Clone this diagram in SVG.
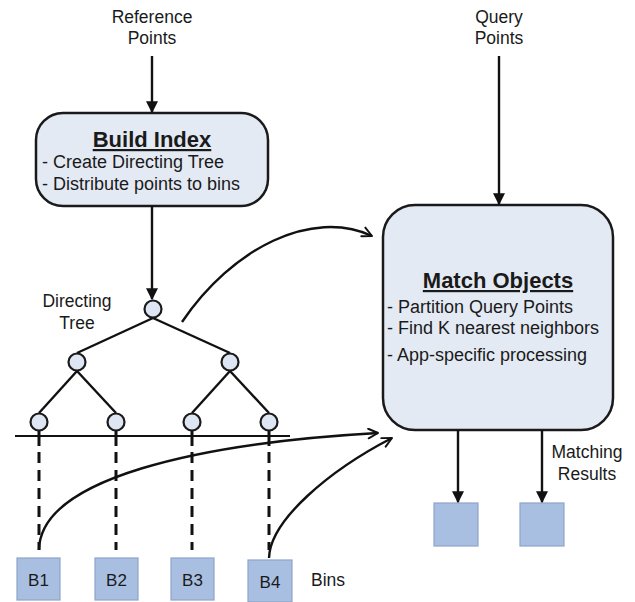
<svg xmlns="http://www.w3.org/2000/svg" width="635" height="602" viewBox="0 0 635 602">
  <style>
    text { font-family: "Liberation Sans", Arial, sans-serif; fill: #1a1a1a; }
    .lbl { font-size: 17.5px; text-anchor: middle; }
    .title { font-size: 22px; font-weight: bold; text-anchor: middle; text-decoration: underline; }
    .item { font-size: 18px; }
    .bin-lbl { font-size: 17px; text-anchor: middle; }
    .box { fill: #e4eaf4; stroke: #1a1a1a; stroke-width: 2.5; }
    .node { fill: #dde6f2; stroke: #1a1a1a; stroke-width: 2.2; }
    .bin { fill: #a9bfe2; stroke: #8ea4c8; stroke-width: 1.2; }
    .edge { fill: none; stroke: #111; stroke-width: 2.4; }
    .dash { fill: none; stroke: #111; stroke-width: 3; stroke-dasharray: 11 7; }
  </style>
  <defs>
    <marker id="solid" viewBox="0 0 10 10" refX="9" refY="5" markerWidth="5" markerHeight="5" orient="auto" markerUnits="strokeWidth">
      <path d="M0,0 L10,5 L0,10 z" fill="#111"/>
    </marker>
    <marker id="open" viewBox="0 0 10 10" refX="9" refY="5" markerWidth="5" markerHeight="5" orient="auto" markerUnits="strokeWidth">
      <path d="M1,1 L9,5 L1,9" fill="none" stroke="#111" stroke-width="1.6" stroke-linecap="round" stroke-linejoin="round"/>
    </marker>
  </defs>

  <!-- input labels -->
  <g id="reference-points">
    <text class="lbl" x="152" y="23">Reference</text>
    <text class="lbl" x="152" y="44">Points</text>
  </g>
  <g id="query-points">
    <text class="lbl" x="499" y="23">Query</text>
    <text class="lbl" x="499" y="44">Points</text>
  </g>

  <!-- Build Index -->
  <g id="build-index">
    <rect class="box" x="36" y="113" width="232" height="93" rx="27" ry="27"/>
    <text class="title" x="152" y="147">Build Index</text>
    <text class="item" x="42" y="168">- Create Directing Tree</text>
    <text class="item" x="42" y="190">- Distribute points to bins</text>
  </g>

  <!-- Match Objects -->
  <g id="match-objects">
    <rect class="box" x="383" y="205" width="230" height="225" rx="32" ry="32"/>
    <text class="title" x="498" y="288">Match Objects</text>
    <text class="item" x="387" y="313">- Partition Query Points</text>
    <text class="item" x="387" y="334">- Find K nearest neighbors</text>
    <text class="item" x="387" y="361">- App-specific processing</text>
  </g>

  <!-- Directing tree -->
  <g id="directing-tree">
    <text class="lbl" x="77" y="307">Directing</text>
    <text class="lbl" x="77" y="329">Tree</text>
    <g class="edge">
      <line x1="153" y1="318" x2="77" y2="353"/>
      <line x1="153" y1="318" x2="230" y2="353"/>
      <line x1="77" y1="371" x2="39" y2="413"/>
      <line x1="77" y1="371" x2="116" y2="413"/>
      <line x1="230" y1="371" x2="192" y2="413"/>
      <line x1="230" y1="371" x2="269" y2="413"/>
      <line x1="15" y1="436" x2="290" y2="436" stroke-width="2"/>
      <line x1="39" y1="431" x2="39" y2="446" stroke-width="3"/>
      <line x1="116" y1="431" x2="116" y2="446" stroke-width="3"/>
      <line x1="192" y1="431" x2="192" y2="446" stroke-width="3"/>
      <line x1="269" y1="431" x2="269" y2="446" stroke-width="3"/>
    </g>
    <circle id="root" class="node" cx="153" cy="309" r="8.5"/>
    <circle id="n-l" class="node" cx="77" cy="362" r="8.5"/>
    <circle id="n-r" class="node" cx="230" cy="362" r="8.5"/>
    <circle id="leaf-1" class="node" cx="39" cy="422" r="8.5"/>
    <circle id="leaf-2" class="node" cx="116" cy="422" r="8.5"/>
    <circle id="leaf-3" class="node" cx="192" cy="422" r="8.5"/>
    <circle id="leaf-4" class="node" cx="269" cy="422" r="8.5"/>
  </g>

  <!-- Bins -->
  <g id="bin-1">
    <rect class="bin" x="17" y="558" width="43" height="42"/>
    <text class="bin-lbl" x="38.5" y="586">B1</text>
  </g>
  <g id="bin-2">
    <rect class="bin" x="95" y="558" width="43" height="42"/>
    <text class="bin-lbl" x="116.5" y="586">B2</text>
  </g>
  <g id="bin-3">
    <rect class="bin" x="171" y="558" width="43" height="42"/>
    <text class="bin-lbl" x="192.5" y="586">B3</text>
  </g>
  <g id="bin-4">
    <rect class="bin" x="248" y="560" width="44" height="42"/>
    <text class="bin-lbl" x="270" y="588">B4</text>
  </g>
  <g id="bins-label">
    <text x="311" y="586" style="font-size:17.5px">Bins</text>
  </g>

  <!-- Results -->
  <g id="result-1">
    <rect class="bin" x="434" y="503" width="44" height="43"/>
  </g>
  <g id="result-2">
    <rect class="bin" x="520" y="503" width="44" height="43"/>
  </g>
  <g id="matching-results">
    <text class="lbl" x="587" y="458">Matching</text>
    <text class="lbl" x="587" y="480">Results</text>
  </g>

  <!-- Connectors -->
  <g id="connectors">
    <line class="edge" x1="152" y1="56" x2="152" y2="112" marker-end="url(#solid)"/>
    <line class="edge" x1="499" y1="56" x2="499" y2="204" marker-end="url(#solid)"/>
    <line class="edge" x1="152" y1="206" x2="152" y2="299" marker-end="url(#solid)"/>
    <line class="edge" x1="458" y1="430" x2="458" y2="502" marker-end="url(#solid)"/>
    <line class="edge" x1="542" y1="430" x2="542" y2="502" marker-end="url(#solid)"/>
    <line class="dash" x1="39" y1="452" x2="39" y2="550"/>
    <line class="dash" x1="116" y1="452" x2="116" y2="550"/>
    <line class="dash" x1="192" y1="452" x2="192" y2="550"/>
    <line class="dash" x1="269" y1="452" x2="269" y2="550"/>
    <path class="edge" d="M182,322 C232,248 312,208 372,236" marker-end="url(#open)"/>
    <path class="edge" d="M39,550 C40,478 200,443 378,433" marker-end="url(#open)"/>
    <path class="edge" d="M269,558 C270,520 330,470 392,438" marker-end="url(#open)"/>
  </g>
</svg>
